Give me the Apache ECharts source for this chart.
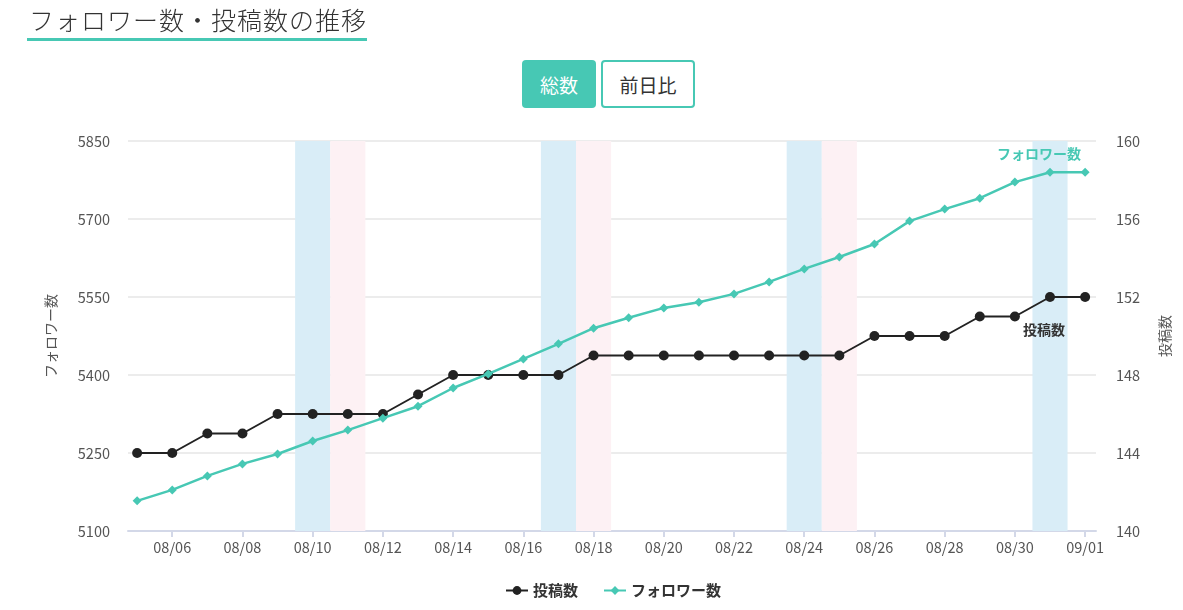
<!DOCTYPE html>
<html>
<head>
<meta charset="utf-8">
<script src="https://cdn.jsdelivr.net/npm/echarts@6/dist/echarts.min.js"></script>
<style>
  html, body { margin: 0; padding: 0; background: #fff; }
  body { width: 1183px; height: 610px; position: relative; overflow: hidden;
         font-family: "Noto Sans CJK JP", "Noto Sans", sans-serif; }
  #main { position: absolute; left: 0; top: 0; width: 1183px; height: 610px; }
  .title { position: absolute; left: 27px; top: 1px; font-size: 25px; font-weight: 300; color: #333;
           letter-spacing: 1px; padding-left: 2px; border-bottom: 3px solid #47c8b4; line-height: 37px; }
  .btns { position: absolute; left: 522px; top: 60px; display: flex; gap: 5px; }
  .btn { height: 48px; box-sizing: border-box; border-radius: 4px; font-size: 19px;
         display: flex; align-items: center; justify-content: center; }
  .on { width: 74px; background: #47c8b4; color: #fff; }
  .off { width: 94px; border: 2px solid #47c8b4; color: #333; background: #fff; }
</style>
</head>
<body>
<div id="main"></div>
<div class="title">フォロワー数・投稿数の推移</div>
<div class="btns"><div class="btn on">総数</div><div class="btn off">前日比</div></div>
<script>
// 日付 (2024/08/05 〜 09/01)
var dates = ['08/05','08/06','08/07','08/08','08/09','08/10','08/11','08/12','08/13','08/14',
             '08/15','08/16','08/17','08/18','08/19','08/20','08/21','08/22','08/23','08/24',
             '08/25','08/26','08/27','08/28','08/29','08/30','08/31','09/01'];
var followers = [5158,5179,5206,5229,5248,5273,5294,5317,5340,5375,
                 5402,5431,5460,5490,5510,5529,5540,5556,5579,5604,
                 5627,5652,5696,5719,5740,5771,5790,5790];
var posts = [144,144,145,145,146,146,146,146,147,148,
             148,148,148,149,149,149,149,149,149,149,
             149,150,150,150,151,151,152,152];
var saturdays = ['08/10','08/17','08/24','08/31'];
var sundays = ['08/11','08/18','08/25'];
var leftTicks = [5100,5250,5400,5550,5700,5850];
var rightTicks = [140,144,148,152,156,160];

var teal = '#47c8b4';
var dark = '#222222';

var tickIdx = [];
for (var i = 1; i < dates.length; i += 2) tickIdx.push(i);

function pairs(vals) {
  return vals.map(function (v, i) { return [i, v]; });
}
function bands(list, color) {
  return list.map(function (d) {
    var i = dates.indexOf(d);
    return [{ xAxis: i - 0.5, itemStyle: { color: color } }, { xAxis: i + 0.5 }];
  });
}
var last = dates.length - 1;

var postData = pairs(posts);
postData[last] = {
  value: postData[last],
  label: { show: true, formatter: '投稿数', position: 'bottom', align: 'right',
           offset: [-20, 16], color: '#333', fontWeight: 'bold', fontSize: 14 }
};
var folData = pairs(followers);
folData[last] = {
  value: folData[last],
  label: { show: true, formatter: 'フォロワー数', position: 'top', align: 'right',
           offset: [-4, -2], color: teal, fontWeight: 'bold', fontSize: 14 }
};

var myChart = echarts.init(document.getElementById('main'));
var option = {
  animation: false,
  textStyle: { fontFamily: '"Noto Sans CJK JP", "Noto Sans", sans-serif' },
  grid: { left: 128, right: 87, top: 141, bottom: 79 },
  legend: {
    bottom: 7, left: 500, itemGap: 25, itemWidth: 22, itemHeight: 11,
    data: ['投稿数', 'フォロワー数'],
    textStyle: { color: '#333', fontWeight: 'bold', fontSize: 15 }
  },
  xAxis: {
    type: 'value', min: -0.26, max: last + 0.31,
    splitLine: { show: false },
    axisLine: { lineStyle: { color: '#d3d8e8', width: 2 } },
    axisTick: { show: true, customValues: tickIdx, length: 6, lineStyle: { color: '#d3d8e8', width: 2 } },
    axisLabel: { customValues: tickIdx, color: '#555', fontSize: 14.5, margin: 9,
                 formatter: function (v) { return dates[Math.round(v)]; } }
  },
  yAxis: [
    {
      type: 'value', min: leftTicks[0], max: leftTicks[leftTicks.length - 1], interval: 150,
      name: 'フォロワー数', nameLocation: 'middle', nameGap: 70,
      nameTextStyle: { color: '#555', fontSize: 14 },
      axisLine: { show: false }, axisTick: { show: false },
      axisLabel: { color: '#555', fontSize: 14.5, margin: 18, formatter: function (v) { return String(v); } },
      splitLine: { lineStyle: { color: '#e6e6e6', width: 1.5 } }
    },
    {
      type: 'value', min: rightTicks[0], max: rightTicks[rightTicks.length - 1], interval: 4,
      name: '投稿数', nameLocation: 'middle', nameGap: 62,
      nameTextStyle: { color: '#555', fontSize: 14 },
      axisLine: { show: false }, axisTick: { show: false },
      axisLabel: { color: '#555', fontSize: 14.5, margin: 20 },
      splitLine: { show: false }
    }
  ],
  series: [
    {
      name: '投稿数', type: 'line', yAxisIndex: 1, data: postData,
      symbol: 'circle', symbolSize: 10, z: 3,
      itemStyle: { color: dark },
      lineStyle: { color: dark, width: 2 },
      markArea: { silent: true, data: bands(saturdays, '#d9edf7').concat(bands(sundays, '#fdf1f4')) }
    },
    {
      name: 'フォロワー数', type: 'line', yAxisIndex: 0, data: folData,
      symbol: 'diamond', symbolSize: 9, z: 4,
      itemStyle: { color: teal },
      lineStyle: { color: teal, width: 2.5 }
    }
  ]
};
myChart.setOption(option);
window.onresize = myChart.resize;
</script>
</body>
</html>
